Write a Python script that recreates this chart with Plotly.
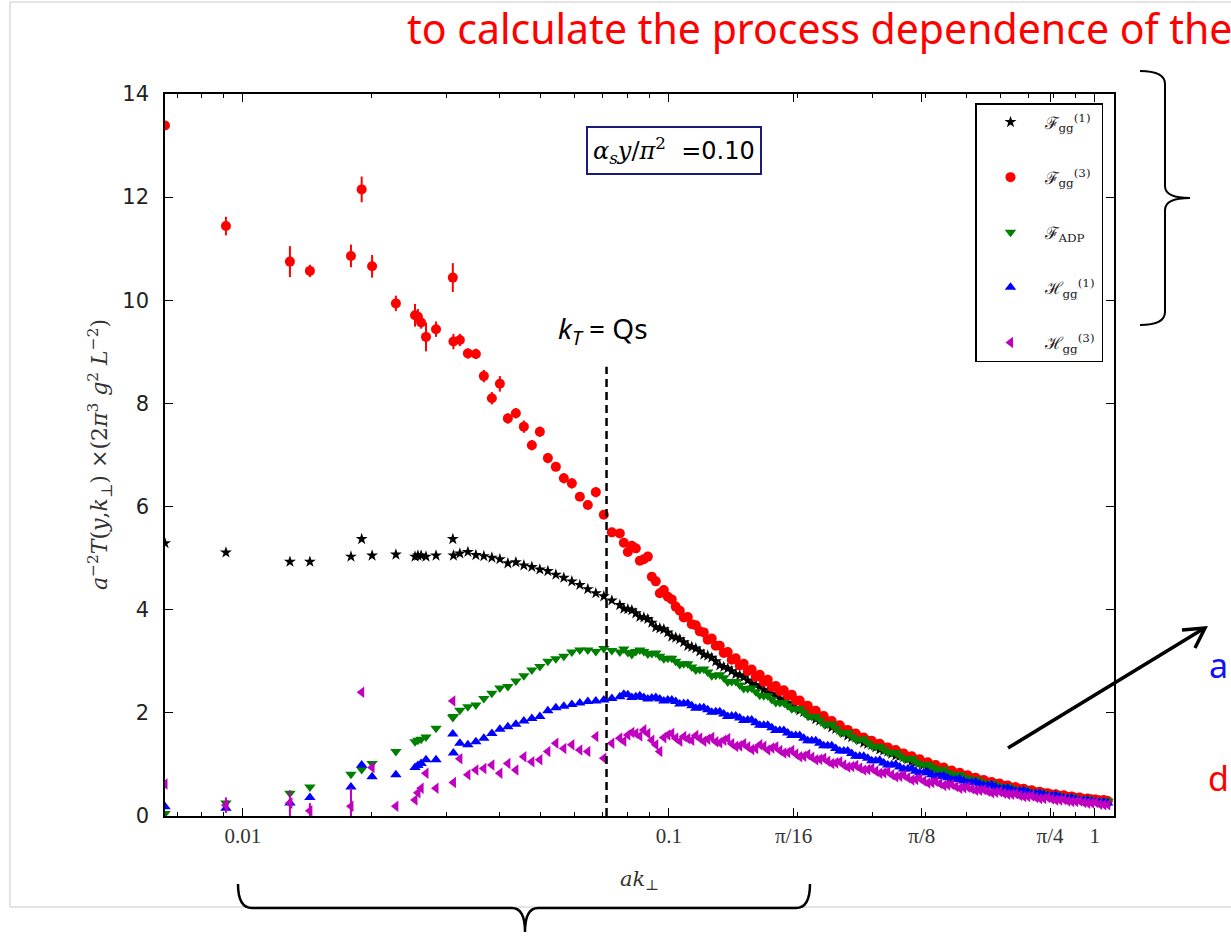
import math
import plotly.graph_objects as go

# ---------------- data ----------------
# main sampling of a*k_perp
ak = [0.00656, 0.00912, 0.01289, 0.01436, 0.01793, 0.01900, 0.02010, 0.02286, 0.02535, 0.02575,
      0.02620, 0.02690, 0.02840, 0.03110, 0.03120,
      0.03231, 0.03374, 0.03523, 0.03678, 0.03841, 0.04011, 0.04188, 0.04373, 0.04566, 0.04768,
      0.04979, 0.05199, 0.05429, 0.05668, 0.05919, 0.06180, 0.06453, 0.06739, 0.07036, 0.07347,
      0.07672, 0.08011, 0.08365, 0.08735, 0.09121, 0.09524, 0.09944, 0.1038, 0.1084, 0.1132,
      0.1182, 0.1234, 0.1289, 0.1346, 0.1405, 0.1467, 0.1532, 0.1600, 0.1671, 0.1745,
      0.1822, 0.1902, 0.1986, 0.2074, 0.2166, 0.2261, 0.2361, 0.2466, 0.2575, 0.2688,
      0.2807, 0.2931, 0.3061, 0.3196, 0.3337, 0.3485, 0.3639, 0.3800, 0.3968, 0.4143,
      0.4326, 0.4517, 0.4717, 0.4925, 0.5143, 0.5370, 0.5607, 0.5855, 0.6114, 0.6384,
      0.6666, 0.6961, 0.7268, 0.7590, 0.7925, 0.8275, 0.8641, 0.9023, 0.9422, 0.9838,
      1.027, 1.073]

# additional lattice momenta in the dense region
ak_b = [0.07840, 0.08186, 0.08548, 0.08926, 0.09320, 0.09732, 0.1016, 0.1061, 0.1108, 0.1157,
        0.1208, 0.1261, 0.1317, 0.1375, 0.1436, 0.1499, 0.1565, 0.1635, 0.1707, 0.1783,
        0.1862, 0.1944, 0.2029, 0.2119, 0.2213, 0.2310, 0.2413, 0.2520, 0.2631, 0.2747,
        0.2868, 0.2995, 0.3128, 0.3266, 0.3410, 0.3561, 0.3719, 0.3883, 0.4055, 0.4234,
        0.4421, 0.4616, 0.4820, 0.5033, 0.5255, 0.5487, 0.5730, 0.5983, 0.6248, 0.6524,
        0.6812, 0.7113, 0.7427, 0.7756, 0.8098, 0.8456, 0.8830, 0.9220, 0.9627, 1.005,
        1.050]

F_gg1 = [5.29, 5.11, 4.93, 4.93, 5.03, 5.37, 5.05, 5.07, 5.03, 5.05, 5.05, 5.03, 5.05, 5.37, 5.05,
         5.09, 5.12, 5.06, 5.04, 5.01, 4.98, 4.90, 4.92, 4.86, 4.83,
         4.78, 4.75, 4.68, 4.62, 4.55, 4.48, 4.40, 4.32, 4.26, 4.18,
         4.09, 4.01, 3.93, 3.85, 3.75, 3.64, 3.56, 3.46, 3.37, 3.28,
         3.19, 3.11, 3.00, 2.89, 2.81, 2.73, 2.63, 2.54, 2.45, 2.37,
         2.28, 2.19, 2.10, 2.02, 1.94, 1.85, 1.77, 1.69, 1.61, 1.53,
         1.47, 1.40, 1.33, 1.27, 1.21, 1.16, 1.10, 1.04, 0.99, 0.94,
         0.88, 0.84, 0.79, 0.75, 0.71, 0.67, 0.63, 0.59, 0.56, 0.53,
         0.50, 0.47, 0.45, 0.42, 0.40, 0.38, 0.36, 0.34, 0.32, 0.31,
         0.29, 0.28]
F_gg1_b = [4.02, 3.99, 3.86, 3.82, 3.66, 3.62, 3.48, 3.43, 3.30, 3.25,
           3.13, 3.07, 2.92, 2.86, 2.75, 2.69, 2.57, 2.51, 2.39, 2.34,
           2.22, 2.16, 2.05, 2.00, 1.88, 1.83, 1.72, 1.67, 1.56, 1.52,
           1.42, 1.38, 1.29, 1.25, 1.17, 1.14, 1.06, 1.03, 0.95, 0.92,
           0.85, 0.82, 0.76, 0.74, 0.68, 0.66, 0.60, 0.58, 0.54, 0.52,
           0.48, 0.46, 0.43, 0.41, 0.38, 0.37, 0.35, 0.33, 0.31, 0.30,
           0.28]

F_gg3 = [13.39, 11.44, 10.75, 10.57, 10.86, 12.15, 10.66, 9.94, 9.71, 9.68, 9.57, 9.29, 9.44, 10.44, 9.20,
         9.23, 8.97, 8.96, 8.53, 8.10, 8.38, 7.71, 7.81, 7.55, 7.19,
         7.45, 6.94, 6.77, 6.55, 6.45, 6.19, 6.03, 6.28, 5.84, 5.50,
         5.48, 5.12, 5.19, 4.98, 4.64, 4.32, 4.25, 4.06, 3.85, 3.72,
         3.58, 3.42, 3.30, 3.16, 3.03, 2.92, 2.81, 2.70, 2.60, 2.50,
         2.42, 2.33, 2.24, 2.13, 2.03, 1.93, 1.83, 1.74, 1.66, 1.59,
         1.52, 1.46, 1.39, 1.33, 1.27, 1.21, 1.15, 1.09, 1.03, 0.98,
         0.92, 0.87, 0.82, 0.78, 0.73, 0.69, 0.65, 0.62, 0.58, 0.55,
         0.52, 0.49, 0.46, 0.44, 0.41, 0.39, 0.37, 0.35, 0.33, 0.32,
         0.30, 0.29]
F_gg3_b = [5.30, 5.24, 4.95, 5.03, 4.55, 4.38, 4.20, 3.98, 3.86, 3.70,
           3.56, 3.44, 3.30, 3.18, 3.06, 2.95, 2.84, 2.74, 2.64, 2.52,
           2.44, 2.35, 2.24, 2.14, 2.04, 1.94, 1.84, 1.76, 1.67, 1.60,
           1.52, 1.46, 1.40, 1.33, 1.28, 1.21, 1.16, 1.10, 1.04, 0.99,
           0.94, 0.88, 0.84, 0.79, 0.74, 0.70, 0.66, 0.63, 0.59, 0.56,
           0.53, 0.50, 0.47, 0.44, 0.42, 0.40, 0.38, 0.36, 0.34, 0.32,
           0.31]

F_gg3_err = [0.04, 0.18, 0.30, 0.12, 0.22, 0.25, 0.22, 0.15, 0.22, 0.15, 0.12, 0.28, 0.15, 0.28, 0.15,
             0.12, 0.10, 0.10, 0.12, 0.12, 0.15, 0.10, 0.10, 0.12, 0.10,
             0.10, 0.10, 0.08, 0.10, 0.10, 0.08, 0.08, 0.10, 0.08, 0.08,
             0.08, 0.08, 0.08, 0.06, 0.06, 0.06, 0.06, 0.05, 0.05, 0.05,
             0.05, 0.05, 0.05, 0.05, 0.05, 0.04, 0.04, 0.04, 0.04, 0.04,
             0.04, 0.04, 0.04, 0.04, 0.04, 0.03, 0.03, 0.03, 0.03, 0.03,
             0.03, 0.03, 0.03, 0.03, 0.03, 0.02, 0.02, 0.02, 0.02, 0.02,
             0.02, 0.02, 0.02, 0.02, 0.02, 0.02, 0.02, 0.02, 0.02, 0.02,
             0.01, 0.01, 0.01, 0.01, 0.01, 0.01, 0.01, 0.01, 0.01, 0.01,
             0.01, 0.01]
F_gg3_err_b = [0.08, 0.08, 0.07, 0.07, 0.06, 0.06, 0.06, 0.05, 0.05, 0.05,
               0.05, 0.05, 0.05, 0.05, 0.04, 0.04, 0.04, 0.04, 0.04, 0.04,
               0.04, 0.04, 0.04, 0.03, 0.03, 0.03, 0.03, 0.03, 0.03, 0.03,
               0.03, 0.03, 0.03, 0.02, 0.02, 0.02, 0.02, 0.02, 0.02, 0.02,
               0.02, 0.02, 0.02, 0.02, 0.02, 0.02, 0.02, 0.02, 0.01, 0.01,
               0.01, 0.01, 0.01, 0.01, 0.01, 0.01, 0.01, 0.01, 0.01, 0.01,
               0.01]

F_ADP = [0.05, 0.25, 0.44, 0.56, 0.81, 0.90, 1.02, 1.25, 1.44, 1.47, 1.49, 1.53, 1.70, 1.91, 1.93,
         2.05, 2.12, 2.15, 2.28, 2.38, 2.48, 2.51, 2.62, 2.72, 2.83,
         2.90, 3.00, 3.05, 3.10, 3.18, 3.22, 3.22, 3.19, 3.25, 3.21,
         3.18, 3.17, 3.19, 3.19, 3.15, 3.10, 3.06, 3.00, 2.95, 2.89,
         2.84, 2.79, 2.73, 2.68, 2.61, 2.54, 2.47, 2.41, 2.33, 2.26,
         2.20, 2.14, 2.08, 2.01, 1.93, 1.86, 1.78, 1.70, 1.62, 1.55,
         1.49, 1.42, 1.35, 1.29, 1.23, 1.17, 1.11, 1.05, 1.00, 0.95,
         0.89, 0.84, 0.80, 0.75, 0.71, 0.67, 0.63, 0.60, 0.57, 0.53,
         0.51, 0.48, 0.45, 0.43, 0.41, 0.39, 0.37, 0.35, 0.33, 0.31,
         0.30, 0.29]
F_ADP_b = [3.24, 3.13, 3.22, 3.14, 3.16, 3.05, 3.06, 2.94, 2.95, 2.83,
           2.85, 2.72, 2.74, 2.60, 2.61, 2.47, 2.48, 2.34, 2.33, 2.20,
           2.20, 2.08, 2.08, 1.94, 1.93, 1.79, 1.78, 1.63, 1.62, 1.49,
           1.49, 1.36, 1.35, 1.24, 1.23, 1.12, 1.11, 1.01, 1.00, 0.91,
           0.90, 0.81, 0.80, 0.72, 0.71, 0.64, 0.63, 0.57, 0.57, 0.51,
           0.51, 0.46, 0.46, 0.41, 0.41, 0.37, 0.37, 0.33, 0.33, 0.30,
           0.30]

H_gg1 = [0.18, 0.15, 0.25, 0.36, 0.56, 0.99, 0.76, 0.80, 0.94, 0.98, 1.02, 1.09, 1.09, 1.59, 1.22,
         1.41, 1.38, 1.44, 1.51, 1.60, 1.68, 1.73, 1.78, 1.84, 1.89,
         1.93, 2.04, 2.10, 2.13, 2.16, 2.19, 2.22, 2.23, 2.25, 2.28,
         2.31, 2.35, 2.31, 2.30, 2.29, 2.27, 2.25, 2.22, 2.18, 2.14,
         2.10, 2.06, 2.02, 1.98, 1.94, 1.90, 1.86, 1.81, 1.76, 1.71,
         1.66, 1.61, 1.56, 1.51, 1.46, 1.41, 1.36, 1.31, 1.26, 1.21,
         1.16, 1.12, 1.07, 1.03, 0.99, 0.95, 0.91, 0.87, 0.84, 0.80,
         0.77, 0.74, 0.71, 0.68, 0.65, 0.62, 0.59, 0.56, 0.53, 0.51,
         0.48, 0.46, 0.43, 0.41, 0.39, 0.37, 0.34, 0.32, 0.30, 0.28,
         0.26, 0.25]
H_gg1_b = [2.36, 2.30, 2.33, 2.27, 2.30, 2.23, 2.25, 2.17, 2.18, 2.09,
           2.10, 2.01, 2.02, 1.93, 1.94, 1.85, 1.86, 1.76, 1.76, 1.66,
           1.66, 1.56, 1.56, 1.46, 1.46, 1.36, 1.36, 1.26, 1.26, 1.16,
           1.16, 1.07, 1.08, 0.99, 1.00, 0.91, 0.92, 0.84, 0.85, 0.77,
           0.78, 0.71, 0.72, 0.65, 0.66, 0.59, 0.60, 0.53, 0.54, 0.48,
           0.49, 0.43, 0.44, 0.39, 0.40, 0.35, 0.35, 0.30, 0.31, 0.27,
           0.27]

H_gg3 = [0.62, 0.21, 0.25, 0.10, 0.19, 2.40, 0.94, 0.19, 0.31, 0.45, 0.54, 0.83, 0.54, 2.23, 0.65,
         1.11, 0.80, 0.89, 0.92, 0.99, 0.83, 1.02, 0.89, 1.15, 1.05,
         1.09, 1.25, 1.41, 1.31, 1.38, 1.28, 1.25, 1.54, 1.12, 1.41,
         1.51, 1.57, 1.60, 1.67, 1.47, 1.25, 1.57, 1.51, 1.54, 1.47,
         1.51, 1.49, 1.44, 1.47, 1.40, 1.36, 1.34, 1.31, 1.35, 1.32,
         1.27, 1.23, 1.20, 1.16, 1.14, 1.10, 1.06, 1.03, 0.99, 0.96,
         0.93, 0.90, 0.87, 0.84, 0.80, 0.77, 0.74, 0.71, 0.68, 0.65,
         0.63, 0.60, 0.57, 0.55, 0.53, 0.50, 0.48, 0.46, 0.44, 0.42,
         0.40, 0.38, 0.36, 0.34, 0.33, 0.31, 0.29, 0.28, 0.26, 0.25,
         0.23, 0.22]
H_gg3_b = [1.45, 1.62, 1.55, 1.60, 1.38, 1.52, 1.60, 1.45, 1.50, 1.56,
           1.45, 1.52, 1.42, 1.50, 1.35, 1.40, 1.29, 1.38, 1.28, 1.34,
           1.22, 1.27, 1.15, 1.19, 1.09, 1.12, 1.02, 1.05, 0.95, 0.98,
           0.89, 0.92, 0.83, 0.86, 0.76, 0.79, 0.70, 0.73, 0.64, 0.67,
           0.59, 0.61, 0.54, 0.56, 0.50, 0.51, 0.45, 0.47, 0.42, 0.43,
           0.38, 0.39, 0.34, 0.36, 0.31, 0.32, 0.28, 0.29, 0.25, 0.26,
           0.22]

# error bars of H_gg^(3) are visible only at the smallest momenta
H_gg3_err = [0.00, 0.15, 0.25, 0.15, 0.35, 0.00, 0.00, 0.05, 0.00, 0.00, 0.00, 0.00, 0.00, 0.00, 0.00]

x_tickvals = [0.01, 0.1, math.pi / 16, math.pi / 8, math.pi / 4, 1.0]
x_ticktext = ["0.01", "0.1", "π/16", "π/8", "π/4", "1"]
x_minor = [0.007, 0.008, 0.009, 0.02, 0.03, 0.04, 0.05, 0.06, 0.07, 0.08, 0.09,
           0.2, 0.3, 0.4, 0.5, 0.6, 0.7, 0.8, 0.9]
y_tickvals = [0, 2, 4, 6, 8, 10, 12, 14]
x_range = [0.00656, 1.11]
y_range = [0, 14]
qs_line = 0.0714      # k_T = Qs position
qs_top = 8.71

# ---------------- layout helpers ----------------
W, H = 1231, 937
L, R, T, B = 165, 1114, 94, 816


def px(xp):
    return (xp - L) / (R - L)


def py(yp):
    return (B - yp) / (B - T)


def path_px(cmds):
    out = []
    for c in cmds:
        if isinstance(c, str):
            out.append(c)
        else:
            out.append(f"{px(c[0]):.5f},{py(c[1]):.5f}")
    return " ".join(out)


fig = go.Figure()

n_b = len(ak_b)
series = [
    ("ℱ<sub>gg</sub><sup>(1)</sup>", F_gg1, F_gg1_b, "black", "star", 9, None),
    ("ℱ<sub>gg</sub><sup>(3)</sup>", F_gg3, F_gg3_b, "#ff0000", "circle", 10, F_gg3_err + F_gg3_err_b),
    ("ℱ<sub>ADP</sub>", F_ADP, F_ADP_b, "#007f00", "triangle-down", 10, None),
    ("ℋ<sub>gg</sub><sup>(1)</sup>", H_gg1, H_gg1_b, "#0000ff", "triangle-up", 10, None),
    ("ℋ<sub>gg</sub><sup>(3)</sup>", H_gg3, H_gg3_b, "#bf00bf", "triangle-left", 10, H_gg3_err),
]
for i, (name, ys, ys_b, col, sym, sz, err) in enumerate(series):
    kw = {}
    if err is not None:
        kw["error_y"] = dict(type="data", array=err, visible=True, color=col, thickness=2, width=0)
    fig.add_trace(go.Scatter(
        x=ak + ak_b, y=ys + ys_b, mode="markers", name=name, legendgroup=f"g{i}",
        marker=dict(symbol=sym, size=sz, color=col, line=dict(width=0)),
        **kw))

lx0, lx1 = math.log10(x_range[0]), math.log10(x_range[1])
qs_xp = (math.log10(qs_line) - lx0) / (lx1 - lx0)

shapes = [
    # k_T = Qs dashed line
    dict(type="line", xref="paper", yref="y", x0=qs_xp, x1=qs_xp, y0=0, y1=qs_top,
         line=dict(color="black", width=2.5, dash="8px,5px")),
    # slide frame (gray)
    dict(type="path", xref="paper", yref="paper",
         path=path_px(["M", (10, 2), "L", (10, 907), "L", (1260, 907)]),
         line=dict(color="#c8c8c8", width=1)),
    dict(type="line", xref="paper", yref="paper", x0=px(10), x1=px(1260), y0=py(2), y1=py(2),
         line=dict(color="#c8c8c8", width=1)),
    # right curly brace
    dict(type="path", xref="paper", yref="paper",
         path=path_px(["M", (1140, 71), "Q", (1165, 71), (1165, 84), "L", (1165, 186),
                       "Q", (1165, 198), (1190, 198), "Q", (1165, 198), (1165, 210),
                       "L", (1165, 312), "Q", (1165, 325), (1140, 325)]),
         line=dict(color="black", width=2)),
    # bottom curly brace
    dict(type="path", xref="paper", yref="paper",
         path=path_px(["M", (238, 884), "Q", (238, 908), (252, 908), "L", (512, 908),
                       "Q", (525, 908), (525, 932), "Q", (525, 908), (538, 908),
                       "L", (796, 908), "Q", (810, 908), (810, 884)]),
         line=dict(color="black", width=2.5)),
    # arrow
    dict(type="line", xref="paper", yref="paper", x0=px(1008), y0=py(748), x1=px(1203), y1=py(629),
         line=dict(color="black", width=3.5)),
    dict(type="path", xref="paper", yref="paper",
         path=path_px(["M", (1182, 630), "L", (1205, 628), "L", (1195, 648)]),
         line=dict(color="black", width=3.5)),
]

annotations = [
    dict(xref="paper", yref="paper", x=px(405), y=py(28), xanchor="left", yanchor="middle",
         text="to calculate the process dependence of the", showarrow=False,
         font=dict(family="Noto Sans", size=41, color="#ff0000")),
    dict(xref="paper", yref="paper", x=px(1207), y=py(665), xanchor="left", yanchor="middle",
         text="a", showarrow=False, font=dict(family="Noto Sans", size=34, color="#1010ff")),
    dict(xref="paper", yref="paper", x=px(1206), y=py(778), xanchor="left", yanchor="middle",
         text="d", showarrow=False, font=dict(family="Noto Sans", size=34, color="#ff0000")),
    dict(xref="paper", yref="paper", x=px(603), y=py(330), xanchor="center", yanchor="middle",
         text="<i>k</i><sub><i>T</i></sub> = Qs", showarrow=False,
         font=dict(family="Noto Sans", size=28, color="black")),
    dict(xref="paper", yref="paper", x=px(674), y=py(150), xanchor="center", yanchor="middle",
         text="<span style='font-family:DejaVu Serif'><i>α<sub>s</sub>y</i>/<i>π</i><sup>2</sup></span>  =0.10",
         showarrow=False, font=dict(family="DejaVu Sans", size=24, color="black"),
         bordercolor="#1a1a78", borderwidth=2, borderpad=5, bgcolor="white"),
    dict(xref="paper", yref="paper", x=0.5, y=py(880), xanchor="center", yanchor="middle",
         text="<i>ak</i><sub>⊥</sub>", showarrow=False,
         font=dict(family="DejaVu Serif", size=21, color="#333")),
    dict(xref="paper", yref="paper", x=px(100), y=0.5, xanchor="center", yanchor="middle",
         textangle=-90,
         text="<i>a</i><sup>−2</sup><i>T</i>(<i>y</i>,<i>k</i><sub>⊥</sub>) ×(2<i>π</i><sup>3</sup> <i>g</i><sup>2</sup> <i>L</i><sup>−2</sup>)",
         showarrow=False, font=dict(family="DejaVu Serif", size=22, color="#333")),
]

fig.update_layout(
    width=W, height=H,
    margin=dict(l=L, r=W - R, t=T, b=H - B, pad=0),
    paper_bgcolor="white", plot_bgcolor="white",
    showlegend=True,
    legend=dict(x=px(1103), y=py(103), xanchor="right", yanchor="top",
                bgcolor="white", bordercolor="black", borderwidth=1.5,
                font=dict(family="DejaVu Serif", size=17, color="#222"),
                tracegroupgap=30, itemwidth=58),
    shapes=shapes, annotations=annotations,
    xaxis=dict(type="log", range=[lx0, lx1], tickmode="array", tickvals=x_tickvals,
               ticktext=x_ticktext, ticks="inside", ticklen=8, tickwidth=1, tickcolor="black",
               showline=True, linecolor="black", linewidth=1.5, mirror="ticks",
               showgrid=False, zeroline=False,
               tickfont=dict(family="Liberation Serif", size=21, color="#333"),
               minor=dict(tickmode="array", tickvals=x_minor, ticks="inside", ticklen=4,
                          tickcolor="black", showgrid=False)),
    yaxis=dict(range=y_range, tickmode="array", tickvals=y_tickvals,
               ticks="inside", ticklen=8, tickwidth=1, tickcolor="black",
               showline=True, linecolor="black", linewidth=1.5, mirror="ticks",
               showgrid=False, zeroline=False, ticklabelstandoff=10,
               tickfont=dict(family="DejaVu Sans", size=21, color="#222")),
)

fig.write_html("out.html", config={"displayModeBar": False})
